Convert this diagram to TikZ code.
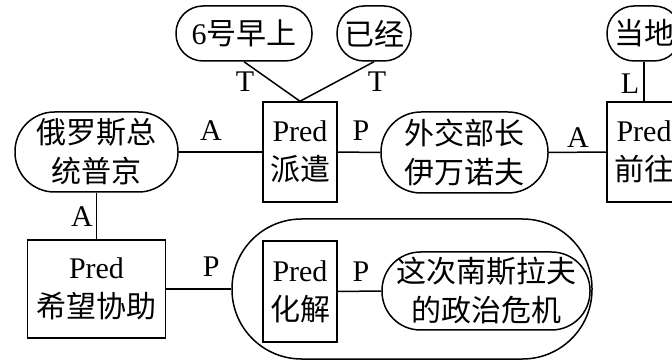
\documentclass[tikz,border=0pt]{standalone}
\usepackage{fontspec}
\setmainfont{Liberation Serif}
\newfontfamily\cjk{Noto Sans CJK SC}
\newcommand{\zh}[1]{{\cjk #1}}

\begin{document}
\begin{tikzpicture}[x=1pt,y=-1pt,line width=1.5pt,
		every node/.style={font=\fontsize{30}{39}\selectfont},
		bubble/.style={draw,align=center,inner sep=0pt},
		predbox/.style={draw,align=center,inner sep=0pt,minimum width=74pt,minimum height=100pt},
		lbl/.style={inner sep=0pt}]
			\useasboundingbox (0,0) rectangle (672,363);
			\clip (0,0) rectangle (672,363);
			% top row
			\node[bubble,minimum width=136pt,minimum height=55pt,rounded corners=27pt] (zao) at (244,33.5) {6\zh{号早上}};
			\node[bubble,minimum width=74pt,minimum height=55pt,rounded corners=27pt] (yijing) at (374,33.5) {\zh{已经}};
			\node[bubble,minimum width=74pt,minimum height=55pt,rounded corners=27pt] (dangdi) at (644,33.5) {\zh{当地}};
			% middle row
			\node[predbox] (paiqian) at (300,152) {Pred\\\zh{派遣}};
			\node[predbox] (qianwang) at (644,152) {Pred\\\zh{前往}};
			\node[bubble,minimum width=163pt,minimum height=80pt,rounded corners=39.5pt] (pujing) at (96.5,152) {\zh{俄罗斯总}\\\zh{统普京}};
			\node[bubble,minimum width=167pt,minimum height=81pt,rounded corners=40pt] (yiwan) at (464.5,152.5) {\zh{外交部长}\\\zh{伊万诺夫}};
			% bottom row
			\node[predbox,minimum width=138pt,minimum height=98pt] (xiwang) at (96.5,289) {Pred\\\zh{希望协助}};
			\node[bubble,minimum width=360pt,minimum height=140pt,rounded corners=69.5pt] (huajieP) at (412,289) {};
			\node[predbox,minimum height=101pt] (huajie) at (300,291.5) {Pred\\\zh{化解}};
			\node[bubble,minimum width=208pt,minimum height=78pt,rounded corners=38.5pt] (weiji) at (486,291) {\zh{这次南斯拉夫}\\\zh{的政治危机}};
			% connectors
			\draw (zao.south) -- node[lbl,xshift=-27pt]{T} (paiqian.north);
			\draw (yijing.south) -- node[lbl,xshift=40pt]{T} (paiqian.north);
			\draw (pujing.east) -- node[lbl,xshift=-9.5pt,yshift=21pt]{A} (paiqian.west);
			\draw (paiqian.east) -- node[lbl,xshift=2pt,yshift=22pt]{P} (yiwan.west);
			\draw (yiwan.east) -- node[lbl,xshift=0.5pt,yshift=15pt]{A} (qianwang.west);
			\draw (dangdi.south) -- node[lbl,xshift=-14pt,yshift=-2.5pt]{L} (qianwang.north);
			\draw (pujing.south) -- node[lbl,xshift=-14.5pt,yshift=-1pt]{A} (xiwang.north);
			\draw (xiwang.east) -- node[lbl,xshift=12.5pt,yshift=22pt]{P} (huajieP.west);
			\draw (huajie.east) -- node[lbl,xshift=1.5pt,yshift=20pt]{P} (weiji.west);
		\end{tikzpicture}
\end{document}
